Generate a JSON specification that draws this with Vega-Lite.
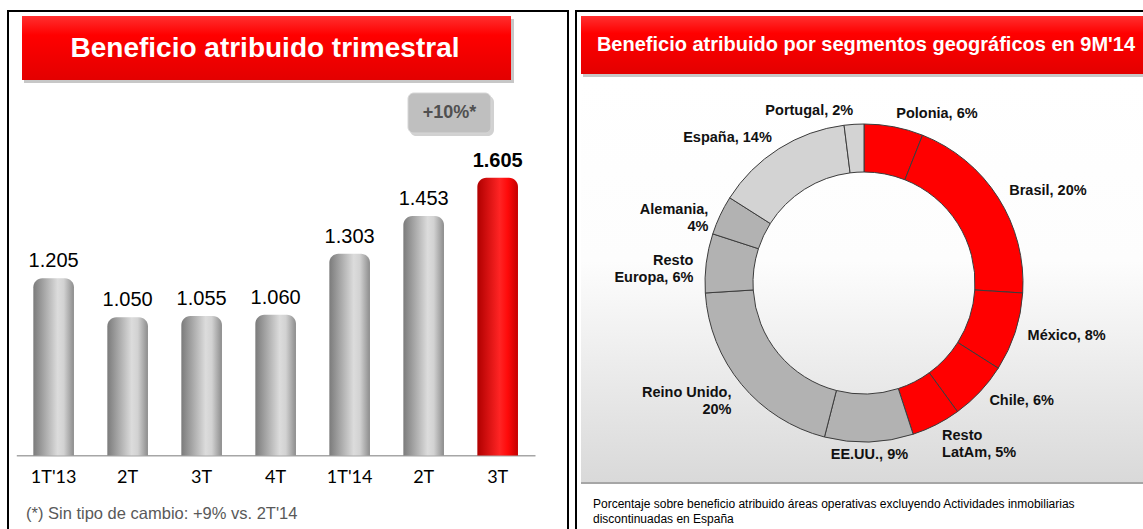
{
  "$schema": "https://vega.github.io/schema/vega-lite/v6.json",
  "padding": {"left": 7, "top": 10, "right": 0, "bottom": 0},
  "background": "white",
  "spacing": 6,
  "config": {
    "view": {"stroke": "#000000", "strokeWidth": 2},
    "font": "Liberation Sans",
    "locale": {"number": {"decimal": ",", "thousands": ".", "grouping": [3], "currency": ["", " €"]}}
  },
  "hconcat": [
    {
      "width": 560,
      "height": 519,
      "data": {"values": [
        {"trimestre": "1T'13", "beneficio": 1205},
        {"trimestre": "2T'13", "beneficio": 1050},
        {"trimestre": "3T'13", "beneficio": 1055},
        {"trimestre": "4T'13", "beneficio": 1060},
        {"trimestre": "1T'14", "beneficio": 1303},
        {"trimestre": "2T'14", "beneficio": 1453},
        {"trimestre": "3T'14", "beneficio": 1605}
      ]},
      "layer": [
        {
          "data": {"values": [{"elemento": "cabecera"}]},
          "mark": {"type": "rect", "color": "#000000", "opacity": 0.22},
          "encoding": {"x": {"value": 16}, "x2": {"value": 506}, "y": {"value": 8}, "y2": {"value": 72}}
        },
        {
          "data": {"values": [{"elemento": "cabecera"}]},
          "mark": {"type": "rect", "color": {"gradient": "linear", "x1": 0, "y1": 0, "x2": 0, "y2": 1, "stops": [{"offset": 0, "color": "#ff3030"}, {"offset": 0.3, "color": "#ff0000"}, {"offset": 1, "color": "#e30000"}]}},
          "encoding": {"x": {"value": 14}, "x2": {"value": 503}, "y": {"value": 5}, "y2": {"value": 69}}
        },
        {
          "data": {"values": [{"titulo": "Beneficio atribuido trimestral"}]},
          "mark": {"type": "text", "color": "#ffffff", "fontSize": 28, "fontWeight": "bold", "align": "center", "baseline": "middle"},
          "encoding": {"x": {"value": 257}, "y": {"value": 38}, "text": {"field": "titulo"}}
        },
        {
          "data": {"values": [{"nota": "+10%*"}]},
          "mark": {"type": "rect", "color": "#000000", "opacity": 0.18, "cornerRadius": 6},
          "encoding": {"x": {"value": 402}, "x2": {"value": 486}, "y": {"value": 85}, "y2": {"value": 125}}
        },
        {
          "data": {"values": [{"nota": "+10%*"}]},
          "mark": {"type": "rect", "color": "#bfbfbf", "cornerRadius": 6, "stroke": "#d6d6d6", "strokeWidth": 1},
          "encoding": {"x": {"value": 400}, "x2": {"value": 483}, "y": {"value": 82}, "y2": {"value": 122}}
        },
        {
          "data": {"values": [{"nota": "+10%*"}]},
          "mark": {"type": "text", "color": "#505050", "fontSize": 18, "fontWeight": "bold", "align": "center", "baseline": "middle"},
          "encoding": {"x": {"value": 441.5}, "y": {"value": 102}, "text": {"field": "nota"}}
        },
        {
          "transform": [{"filter": {"not": {"field": "trimestre", "equal": "3T'14"}}}],
          "mark": {"type": "bar", "cornerRadiusTopLeft": 9, "cornerRadiusTopRight": 9, "color": {"gradient": "linear", "x1": 0, "y1": 0, "x2": 1, "y2": 0, "stops": [{"offset": 0, "color": "#7b7b7b"}, {"offset": 0.6, "color": "#dcdcdc"}, {"offset": 0.75, "color": "#d2d2d2"}, {"offset": 1, "color": "#8c8c8c"}]}},
          "encoding": {
            "x": {
              "field": "trimestre", "type": "nominal", "sort": null,
              "scale": {"domain": ["1T'13", "2T'13", "3T'13", "4T'13", "1T'14", "2T'14", "3T'14"], "range": [8.3, 527], "paddingInner": 0.451, "paddingOuter": 0.23, "align": 0.5},
              "axis": {"orient": "bottom", "offset": -74.7, "title": null, "grid": false, "domain": true, "domainColor": "#a6a6a6", "domainWidth": 1.5, "ticks": false, "tickSize": 0, "labelPadding": 21.7, "labelBaseline": "middle", "labelAngle": 0, "labelFont": "Lato", "labelFontSize": 18, "labelColor": "#000000", "labelExpr": "indexof(datum.label, '1T') === 0 ? datum.label : slice(datum.label, 0, 2)"}
            },
            "y": {"field": "beneficio", "type": "quantitative", "scale": {"domain": [204, 2268], "zero": false, "nice": false}, "axis": null},
            "y2": {"datum": 500}
          }
        },
        {
          "transform": [{"filter": {"field": "trimestre", "equal": "3T'14"}}],
          "mark": {"type": "bar", "cornerRadiusTopLeft": 9, "cornerRadiusTopRight": 9, "color": {"gradient": "linear", "x1": 0, "y1": 0, "x2": 1, "y2": 0, "stops": [{"offset": 0, "color": "#b00000"}, {"offset": 0.55, "color": "#ff2424"}, {"offset": 0.75, "color": "#ff0a0a"}, {"offset": 1, "color": "#c40000"}]}},
          "encoding": {
            "x": {"field": "trimestre", "type": "nominal", "sort": null},
            "y": {"field": "beneficio", "type": "quantitative"},
            "y2": {"datum": 500}
          }
        },
        {
          "transform": [{"filter": {"not": {"field": "trimestre", "equal": "3T'14"}}}],
          "mark": {"type": "text", "baseline": "alphabetic", "dy": -11, "fontSize": 20, "color": "#000000"},
          "encoding": {
            "x": {"field": "trimestre", "type": "nominal", "sort": null},
            "y": {"field": "beneficio", "type": "quantitative"},
            "text": {"field": "beneficio", "type": "quantitative", "format": ",d"}
          }
        },
        {
          "transform": [{"filter": {"field": "trimestre", "equal": "3T'14"}}],
          "mark": {"type": "text", "baseline": "alphabetic", "dy": -11, "fontSize": 20, "fontWeight": "bold", "color": "#000000"},
          "encoding": {
            "x": {"field": "trimestre", "type": "nominal", "sort": null},
            "y": {"field": "beneficio", "type": "quantitative"},
            "text": {"field": "beneficio", "type": "quantitative", "format": ",d"}
          }
        },
        {
          "data": {"values": [{"nota": "(*) Sin tipo de cambio: +9% vs. 2T'14"}]},
          "mark": {"type": "text", "align": "left", "baseline": "alphabetic", "fontSize": 16.5, "color": "#595959"},
          "encoding": {"x": {"value": 18}, "y": {"value": 508}, "text": {"field": "nota"}}
        }
      ]
    },
    {
      "width": 570,
      "height": 519,
      "data": {"values": [
        {"orden": 1, "segmento": "Polonia", "pct": 6, "etiqueta": "Polonia, 6%"},
        {"orden": 2, "segmento": "Brasil", "pct": 20, "etiqueta": "Brasil, 20%"},
        {"orden": 3, "segmento": "México", "pct": 8, "etiqueta": "México, 8%"},
        {"orden": 4, "segmento": "Chile", "pct": 6, "etiqueta": "Chile, 6%"},
        {"orden": 5, "segmento": "Resto LatAm", "pct": 5, "etiqueta": "Resto\nLatAm, 5%"},
        {"orden": 6, "segmento": "EE.UU.", "pct": 9, "etiqueta": "EE.UU., 9%"},
        {"orden": 7, "segmento": "Reino Unido", "pct": 20, "etiqueta": "Reino Unido,\n20%"},
        {"orden": 8, "segmento": "Resto Europa", "pct": 6, "etiqueta": "Resto\nEuropa, 6%"},
        {"orden": 9, "segmento": "Alemania", "pct": 4, "etiqueta": "Alemania,\n4%"},
        {"orden": 10, "segmento": "España", "pct": 14, "etiqueta": "España, 14%"},
        {"orden": 11, "segmento": "Portugal", "pct": 2, "etiqueta": "Portugal, 2%"}
      ]},
      "layer": [
        {
          "data": {"values": [{"elemento": "fondo"}]},
          "mark": {"type": "rect", "color": {"gradient": "linear", "x1": 0, "y1": 0, "x2": 0, "y2": 1, "stops": [{"offset": 0, "color": "#ffffff"}, {"offset": 0.45, "color": "#fdfdfd"}, {"offset": 1, "color": "#d9d9d9"}]}},
          "encoding": {"x": {"value": 5}, "x2": {"value": 570}, "y": {"value": 68}, "y2": {"value": 472}}
        },
        {
          "data": {"values": [{"elemento": "fondo"}]},
          "mark": {"type": "rule", "color": "#a6a6a6", "strokeWidth": 2},
          "encoding": {"x": {"value": 5}, "x2": {"value": 570}, "y": {"value": 472}}
        },
        {
          "data": {"values": [{"elemento": "cabecera"}]},
          "mark": {"type": "rect", "color": "#000000", "opacity": 0.22},
          "encoding": {"x": {"value": 7}, "x2": {"value": 570}, "y": {"value": 8}, "y2": {"value": 66}}
        },
        {
          "data": {"values": [{"elemento": "cabecera"}]},
          "mark": {"type": "rect", "color": {"gradient": "linear", "x1": 0, "y1": 0, "x2": 0, "y2": 1, "stops": [{"offset": 0, "color": "#ff3030"}, {"offset": 0.3, "color": "#ff0000"}, {"offset": 1, "color": "#e30000"}]}},
          "encoding": {"x": {"value": 5}, "x2": {"value": 570}, "y": {"value": 5}, "y2": {"value": 63}}
        },
        {
          "data": {"values": [{"titulo": "Beneficio atribuido por segmentos geográficos en 9M'14"}]},
          "mark": {"type": "text", "color": "#ffffff", "fontSize": 20, "fontWeight": "bold", "align": "center", "baseline": "middle"},
          "encoding": {"x": {"value": 290}, "y": {"value": 34}, "text": {"field": "titulo"}}
        },
        {
          "mark": {"type": "arc", "radius": 159, "radius2": 111, "stroke": "#3c3c3c", "strokeWidth": 1, "xOffset": 3, "yOffset": 12.5},
          "encoding": {
            "theta": {"field": "pct", "type": "quantitative", "stack": true, "scale": {"domain": [0, 100]}},
            "order": {"field": "orden", "type": "quantitative"},
            "color": {"field": "segmento", "type": "nominal", "legend": null, "scale": {
              "domain": ["Polonia", "Brasil", "México", "Chile", "Resto LatAm", "EE.UU.", "Reino Unido", "Resto Europa", "Alemania", "España", "Portugal"],
              "range": ["#ff0000", "#ff0000", "#ff0000", "#ff0000", "#ff0000", "#b2b2b2", "#b2b2b2", "#b2b2b2", "#b2b2b2", "#d3d3d3", "#d3d3d3"]}}
          }
        },
        {
          "mark": {"type": "text", "radius": 172, "xOffset": 3, "yOffset": 12.5, "fontSize": 14.5, "fontWeight": "bold", "color": "#111111", "lineBreak": "\n", "lineHeight": 17, "baseline": "middle",
            "align": {"expr": "sin(PI * (datum.pct_start + datum.pct_end) / 100) > 0.1 ? 'left' : (sin(PI * (datum.pct_start + datum.pct_end) / 100) < -0.05 ? 'right' : 'center')"}},
          "encoding": {
            "theta": {"field": "pct", "type": "quantitative", "stack": true},
            "order": {"field": "orden", "type": "quantitative"},
            "detail": {"field": "segmento", "type": "nominal"},
            "text": {"field": "etiqueta", "type": "nominal"}
          }
        },
        {
          "data": {"values": [{"nota": "Porcentaje sobre beneficio atribuido áreas operativas excluyendo  Actividades inmobiliarias\ndiscontinuadas en España"}]},
          "mark": {"type": "text", "align": "left", "baseline": "alphabetic", "fontSize": 12, "color": "#000000", "lineBreak": "\n", "lineHeight": 15},
          "encoding": {"x": {"value": 17}, "y": {"value": 497}, "text": {"field": "nota"}}
        }
      ]
    }
  ]
}
